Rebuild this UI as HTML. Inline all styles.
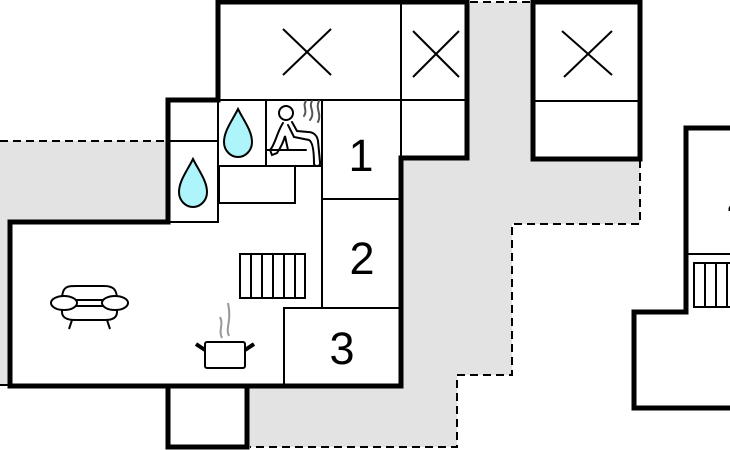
<!DOCTYPE html>
<html><head><style>body{margin:0;background:#fff}svg{display:block}</style></head><body>
<svg width="730" height="450" viewBox="0 0 730 450" xmlns="http://www.w3.org/2000/svg" font-family="Liberation Sans, sans-serif">
<rect width="730" height="450" fill="#fff"/>
<polygon points="467,2 533,2 533,160 640,160 640,224 512,224 512,375 457,375 457,447 247,447 247,386 401,386 401,158 467,158" fill="#e3e3e3"/>
<rect x="0" y="141" width="168" height="81" fill="#e3e3e3"/>
<rect x="0" y="222" width="10" height="163" fill="#e3e3e3"/>
<g stroke="#000" stroke-width="2" stroke-dasharray="8,5" fill="none">
<line x1="470" y1="2" x2="533" y2="2"/>
<polyline points="640,160 640,224 512,224 512,375 457,375 457,447 250,447"/>
<line x1="0" y1="141" x2="168" y2="141"/>
<line x1="0" y1="385" x2="10" y2="385"/>
</g>
<g stroke="#000" stroke-width="2" fill="none">
<line x1="218" y1="100" x2="467" y2="100"/>
<line x1="401" y1="2" x2="401" y2="158"/>
<line x1="266" y1="100" x2="266" y2="166"/>
<line x1="322" y1="100" x2="322" y2="308"/>
<line x1="218" y1="166" x2="322" y2="166"/>
<rect x="219" y="166" width="76" height="37"/>
<rect x="168" y="141" width="50" height="81"/>
<line x1="218" y1="100" x2="218" y2="141"/>
<line x1="322" y1="199" x2="401" y2="199"/>
<polyline points="401,308 284,308 284,386"/>
<line x1="533" y1="101" x2="640" y2="101"/>
<line x1="686" y1="254" x2="730" y2="254"/>
</g>
<g stroke="#000" stroke-width="5" fill="none" stroke-linejoin="miter">
<polygon points="218,2 467,2 467,158 401,158 401,386 10,386 10,222 168,222 168,100 218,100"/>
<polyline points="168,386 168,447 247,447 247,386"/>
<rect x="533" y="2" width="107" height="157"/>
<polyline points="730,128 686,128 686,312 634,312 634,408 730,408"/>
</g>
<g stroke="#000" stroke-width="2">
<line x1="283" y1="29" x2="331" y2="75"/><line x1="331" y1="29" x2="283" y2="75"/>
<line x1="413" y1="31" x2="459" y2="77"/><line x1="459" y1="31" x2="413" y2="77"/>
<line x1="562" y1="31" x2="612" y2="75"/><line x1="612" y1="31" x2="564" y2="77"/>
</g>
<g fill="#aef4fb" stroke="#000" stroke-width="2">
<path d="M238,109 C232,121 224,131 224,142 C224,151 231,157 238,157 C245,157 252,151 252,142 C252,131 244,121 238,109 Z"/>
<path d="M193,159 C187,171 179,181 179,192 C179,201 186,207 193,207 C200,207 207,201 207,192 C207,181 199,171 193,159 Z"/>
</g>
<g stroke="#000" stroke-width="2" fill="none" stroke-linecap="round">
<circle cx="286" cy="113" r="7"/>
<path d="M283,123 C277,132 275,145 270,150 L272,155 L277,153 C281,147 284,140 285,136 L288,150"/>
<path d="M288,125 L294,137 L309,140 C313,142 314,152 314,164 C315,167 321,167 320,162 L318,141 C317,134 312,132 308,132 L297,131 L292,122"/>
<line x1="266" y1="150" x2="306" y2="150"/>
<path d="M306,101 C302,106 308,110 304,116" stroke="#555"/>
<path d="M312,101 C308,107 316,112 310,120" stroke="#555"/>
<path d="M319,101 C315,108 322,114 318,122" stroke="#555"/>
</g>
<g font-size="45" text-anchor="middle" fill="#000">
<text x="361" y="171">1</text>
<text x="362" y="274">2</text>
<text x="342" y="364">3</text>
<text x="740" y="218">4</text>
</g>
<g stroke="#000" stroke-width="2" fill="none">
<rect x="240" y="254" width="65" height="44"/>
<line x1="251" y1="254" x2="251" y2="298"/><line x1="262" y1="254" x2="262" y2="298"/>
<line x1="273" y1="254" x2="273" y2="298"/><line x1="284" y1="254" x2="284" y2="298"/><line x1="295" y1="254" x2="295" y2="298"/>
<rect x="694" y="263" width="40" height="44"/>
<line x1="705" y1="263" x2="705" y2="307"/><line x1="716" y1="263" x2="716" y2="307"/><line x1="727" y1="263" x2="727" y2="307"/>
</g>
<g stroke="#000" stroke-width="2" fill="#fff">
<path d="M62,300 C62,285 68,286 80,286 L104,286 C114,286 117,290 117,300 Z"/>
<path d="M62,306 L62,312 C62,318 68,320 75,320 L105,320 C112,320 117,318 117,312 L117,306 Z"/>
<ellipse cx="64" cy="303" rx="13" ry="7"/>
<ellipse cx="115" cy="303" rx="13" ry="7"/>
<line x1="72" y1="320" x2="69" y2="329"/><line x1="107" y1="320" x2="110" y2="329"/>
</g>
<g stroke="#000" stroke-width="2" fill="#fff">
<rect x="205" y="342" width="40" height="26" rx="2"/>
<line x1="205" y1="350" x2="196" y2="344" stroke-width="4"/>
<line x1="245" y1="350" x2="254" y2="344" stroke-width="4"/>
<path d="M222,338 C218,330 224,325 220,317" stroke="#999" fill="none"/>
<path d="M229,336 C225,328 232,322 228,303" stroke="#999" fill="none"/>
</g>
</svg>
</body></html>
